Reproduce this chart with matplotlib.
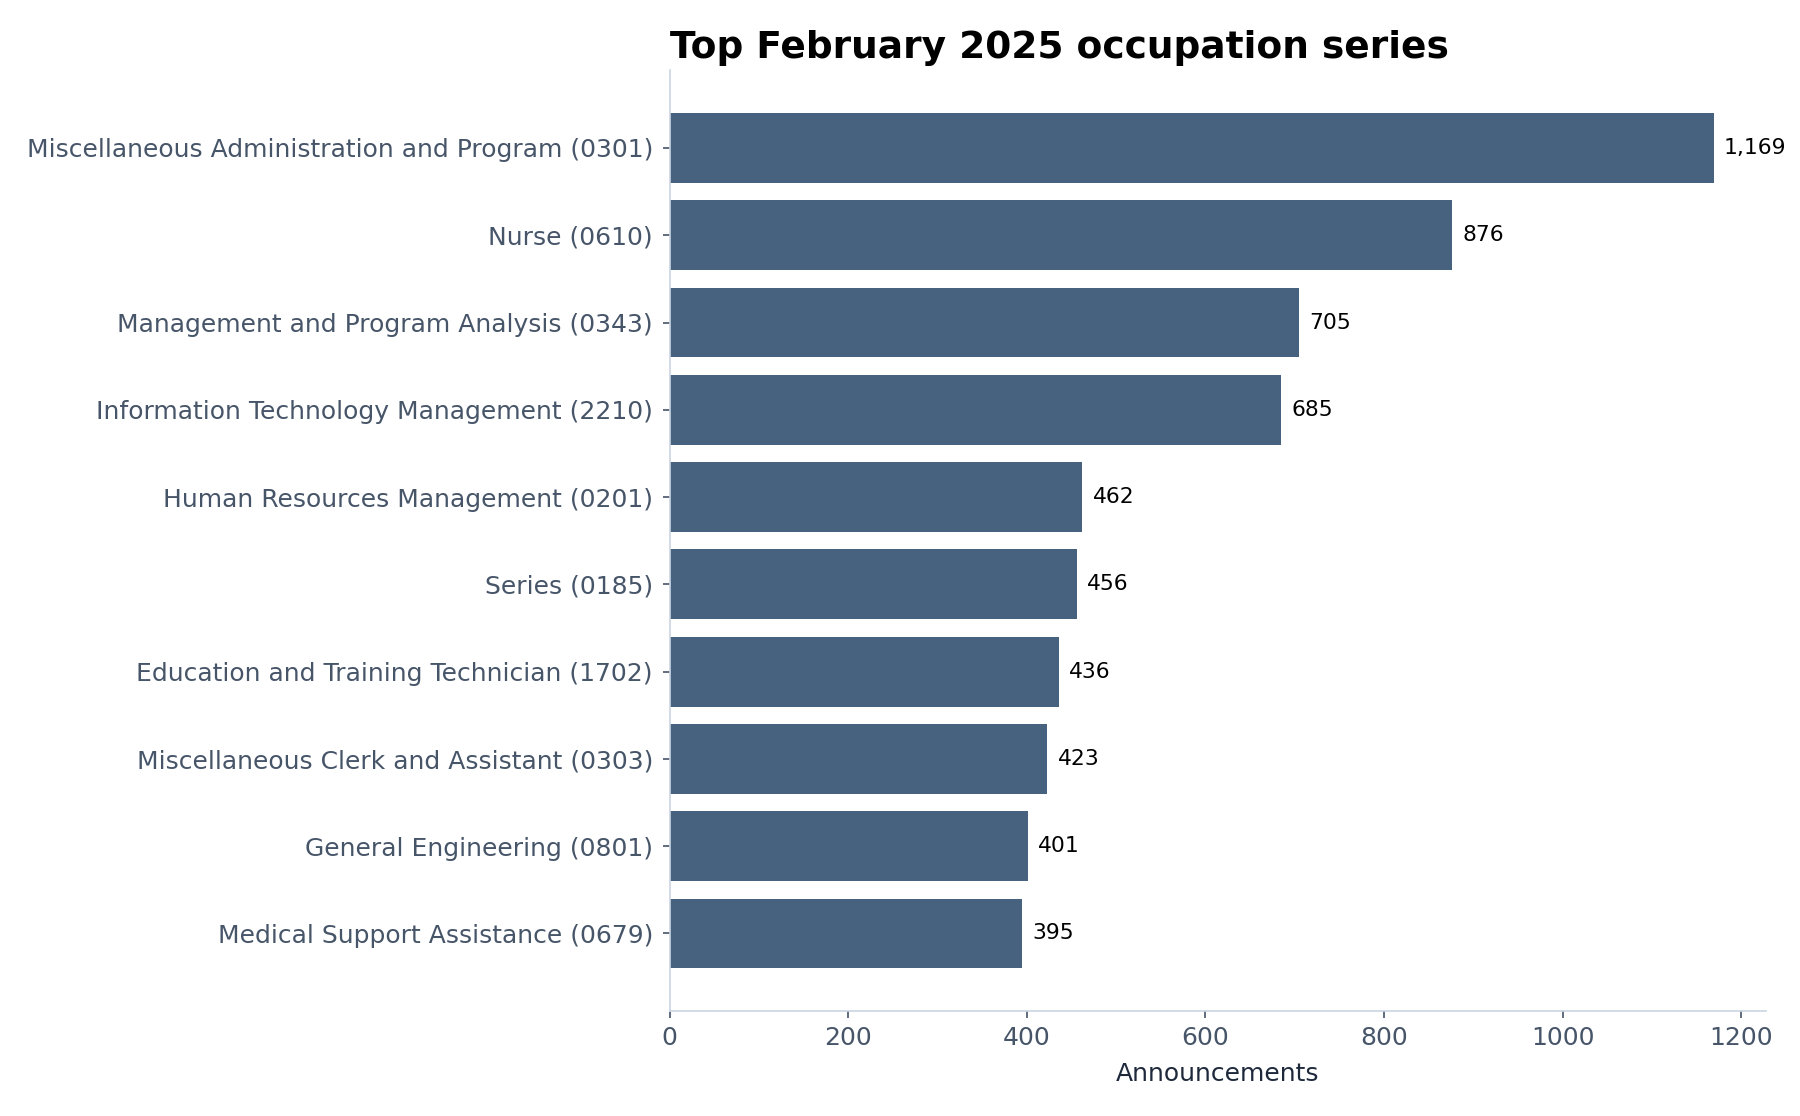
import matplotlib
matplotlib.use("Agg")
import matplotlib.pyplot as plt

categories = [
    "Miscellaneous Administration and Program (0301)",
    "Nurse (0610)",
    "Management and Program Analysis (0343)",
    "Information Technology Management (2210)",
    "Human Resources Management (0201)",
    "Series (0185)",
    "Education and Training Technician (1702)",
    "Miscellaneous Clerk and Assistant (0303)",
    "General Engineering (0801)",
    "Medical Support Assistance (0679)",
]
values = [1169, 876, 705, 685, 462, 456, 436, 423, 401, 395]

fig, ax = plt.subplots(figsize=(12, 7.44), dpi=150)
cats = categories[::-1]
vals = values[::-1]
bars = ax.barh(cats, vals, color="#47627f", height=0.8)
ax.bar_label(bars, labels=[f"{v:,}" for v in vals], padding=5, fontsize=10.5, color="black")

ax.set_title("Top February 2025 occupation series", loc="left", fontsize=18,
             fontweight="bold", color="black")
ax.set_xlabel("Announcements", fontsize=12, color="#1e293b", labelpad=6)
for s in ["top", "right"]:
    ax.spines[s].set_visible(False)
for s in ["left", "bottom"]:
    ax.spines[s].set_color("#cbd5e1")
ax.tick_params(axis="both", colors="#475569", labelsize=12)
ax.tick_params(axis="y", pad=4.5)

fig.subplots_adjust(left=0.372, right=0.981, top=0.937, bottom=0.094)
fig.savefig("out.png", dpi=150)
